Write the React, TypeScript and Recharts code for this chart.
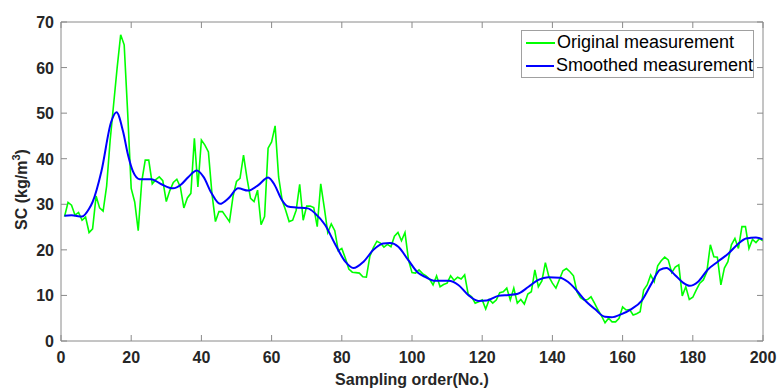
import { LineChart, Line, XAxis, YAxis } from 'recharts'

const X_TICKS = [0, 20, 40, 60, 80, 100, 120, 140, 160, 180, 200]
const Y_TICKS = [0, 10, 20, 30, 40, 50, 60, 70]

// original measurement, sampling order 1..200
const originalValues = [
  27.3, 30.4, 29.8, 27.6, 28.2, 26.5, 27.2, 23.8, 24.6, 31.8,
  29.2, 28.5, 34, 44, 52, 60, 67.2, 65, 50, 33.5,
  30.5, 24.2, 35, 39.7, 39.7, 34.5, 35.4, 36, 35.2, 30.6,
  33, 34.8, 35.5, 33.8, 29.2, 31.4, 32.4, 44.5, 33.8, 44.1,
  43, 41.5, 32.4, 26.2, 28.4, 28.4, 27.3, 26.2, 31.7, 35,
  35.7, 40.8, 35.7, 31.3, 30.6, 33.1, 25.5, 27.3, 42.3, 43.7,
  47.2, 36, 30.9, 28.7, 26.2, 26.5, 28.7, 34.4, 26.5, 29.6,
  29.6, 29.3, 25.1, 34.5, 29.3, 23.8, 25.7, 24.2, 19.8, 20.3,
  18.2, 15.8, 15.1, 15, 14.9, 14.1, 14, 18.6, 20.5, 21.9,
  21.5, 20.6, 21.2, 20.7, 23, 23.8, 22, 23.8, 17.8, 15,
  14.9, 15.6, 14.8, 14.3, 13.6, 12.3, 14.3, 11.9, 12.4, 12.7,
  14.3, 13.3, 14, 13.6, 14.5, 10.3, 9.7, 8.3, 8.6, 9,
  7, 9.1, 8.3, 9, 10.6, 10.8, 11.6, 9, 11.6, 8.3,
  9.1, 8.1, 10.3, 10.8, 15.6, 11.9, 13.2, 17.2, 14.1, 12.7,
  11.6, 13.5, 15.4, 15.9, 15.2, 14.3, 10.8, 9.5, 9, 9.1,
  9.7, 8.3, 6.8, 5.5, 4, 5, 4.2, 4.2, 5, 7.5,
  6.8, 6.9, 5.7, 6, 6.4, 11.2, 12.3, 14.5, 13, 16.5,
  17.6, 18.4, 17.8, 15, 16.2, 16.7, 9.9, 11.9, 9.1, 9.6,
  11.2, 12.7, 13.4, 15.2, 21.1, 18.5, 18.4, 12.3, 16, 17.4,
  21.1, 22.5, 20.3, 25.1, 25.1, 20.3, 22.3, 21.6, 22.5, 22,
]

// smoothed measurement, read at key points along the curve
const smoothedOrder = [
  1, 3, 6, 8, 9, 11.5, 14.3, 15.8, 17.7, 19.1, 20.5, 22.4, 25.7, 28.6, 31.9, 34.3,
  36.3, 38.7, 40.6, 42.9, 45.3, 47.7, 50.5, 53.3, 56.2, 59, 60.9, 62.8, 64.7, 67,
  70.3, 72.4, 75.2, 78, 81, 83.3, 86.2, 89, 91.8, 93.7, 96.1, 98.9, 101.8, 103.7,
  106.6, 110.4, 113.2, 116, 118.9, 121.3, 124.6, 127.5, 129.9, 133.2, 136, 138.8,
  142.1, 144.4, 146.8, 149.2, 152.1, 155, 156.8, 159.7, 162.5, 165.4, 168.3, 170.6,
  172.5, 174.9, 177.2, 179.1, 181.5, 184.3, 187.1, 190, 192.9, 195.2, 198, 200,
]
const smoothedValues = [
  27.5, 27.6, 27.3, 29, 30.5, 37.2, 48.1, 50.2, 45.9, 40.8, 37.2, 35.5, 35.5, 34.4, 33.5, 34.4,
  36, 37.4, 36, 32.4, 30.1, 31.3, 33.5, 33, 34.2, 35.9, 34.2, 31.1, 29.5, 29.3,
  29.1, 28, 25.5, 21.4, 17.4, 16, 17.4, 20, 21.4, 21.5, 20.7, 17.8, 14.9, 14.1,
  13.2, 13.2, 12.3, 10.1, 8.8, 8.9, 9.9, 10.1, 10.3, 11.9, 13.4, 14,
  13.9, 13, 11.2, 9, 7, 5.3, 5.2, 5.9, 7, 8.8, 12.7, 15.6,
  16, 14.5, 12.8, 12.1, 13, 15.7, 17.4, 19.1, 21.3, 22.5, 22.7, 22.3,
]

const originalData = originalValues.map((v, i) => ({ x: i + 1, y: v }))
const smoothedData = smoothedValues.map((v, i) => ({ x: smoothedOrder[i], y: v }))

const FONT = '"Liberation Sans", Arial, sans-serif'
const AXIS_COLOR = '#8a8a8a'
const TEXT_COLOR = '#262626'
const TICK_LEN = 6

const BottomTick = ({ x, y, payload }: any) => (
  <g>
    <line x1={x} y1={y} x2={x} y2={y - TICK_LEN} stroke={AXIS_COLOR} />
    <text x={x} y={y + 22} textAnchor="middle" fontFamily={FONT} fontWeight="bold" fontSize={16} fill={TEXT_COLOR}>
      {payload.value}
    </text>
  </g>
)

const TopTick = ({ x, y }: any) => <line x1={x} y1={y} x2={x} y2={y + TICK_LEN} stroke={AXIS_COLOR} />

const LeftTick = ({ x, y, payload }: any) => (
  <g>
    <line x1={x} y1={y} x2={x + TICK_LEN} y2={y} stroke={AXIS_COLOR} />
    <text x={x - 7} y={y + 6} textAnchor="end" fontFamily={FONT} fontWeight="bold" fontSize={16} fill={TEXT_COLOR}>
      {payload.value}
    </text>
  </g>
)

const RightTick = ({ x, y }: any) => <line x1={x} y1={y} x2={x - TICK_LEN} y2={y} stroke={AXIS_COLOR} />

const YLabel = ({ viewBox }: any) => {
  const cx = 27
  const cy = viewBox.y + viewBox.height / 2 + 8
  return (
    <text
      x={cx}
      y={cy}
      transform={`rotate(-90 ${cx} ${cy})`}
      textAnchor="middle"
      fontFamily={FONT}
      fontWeight="bold"
      fontSize={16}
      fill={TEXT_COLOR}
    >
      SC (kg/m<tspan dy={-7} fontSize={11}>3</tspan>
      <tspan dy={7}>)</tspan>
    </text>
  )
}

const XLabel = ({ viewBox }: any) => (
  <text
    x={viewBox.x + viewBox.width / 2}
    y={viewBox.y + 44}
    textAnchor="middle"
    fontFamily={FONT}
    fontWeight="bold"
    fontSize={16}
    fill={TEXT_COLOR}
  >
    Sampling order(No.)
  </text>
)

const legendItems = [
  { name: 'Original measurement', color: '#00ff00' },
  { name: 'Smoothed measurement', color: '#0000ff' },
]

// legend sits over the plot, top right, like the MATLAB box legend
const LegendBox = () => (
  <div
    style={{
      position: 'absolute',
      left: 521,
      top: 30,
      width: 231,
      height: 46,
      border: '1px solid #a0a0a0',
      background: '#fff',
      fontFamily: FONT,
      fontSize: 18,
      color: '#000',
    }}
  >
    {legendItems.map((item) => (
      <div key={item.name} style={{ display: 'flex', alignItems: 'center', height: 23, paddingLeft: 4 }}>
        <div style={{ width: 29, height: 2, background: item.color, marginRight: 2 }} />
        <span style={{ whiteSpace: 'nowrap', lineHeight: '23px' }}>{item.name}</span>
      </div>
    ))}
  </div>
)

export default function App() {
  return (
    <div style={{ position: 'absolute', left: 0, top: 0, width: 778, height: 389, background: '#fff' }}>
      <LineChart width={778} height={389} margin={{ top: 21, right: 14, bottom: 0, left: 0 }}>
        <XAxis
          type="number"
          dataKey="x"
          domain={[0, 200]}
          ticks={X_TICKS}
          height={48}
          tickSize={0}
          tickMargin={0}
          tickLine={false}
          tick={<BottomTick />}
          axisLine={{ stroke: AXIS_COLOR }}
          label={<XLabel />}
          allowDataOverflow
        />
        <XAxis
          xAxisId="top"
          orientation="top"
          type="number"
          dataKey="x"
          domain={[0, 200]}
          ticks={X_TICKS}
          height={1}
          tickSize={0}
          tickMargin={0}
          tickLine={false}
          tick={<TopTick />}
          axisLine={{ stroke: AXIS_COLOR }}
          allowDataOverflow
        />
        <YAxis
          type="number"
          domain={[0, 70]}
          ticks={Y_TICKS}
          width={61}
          tickSize={0}
          tickMargin={0}
          tickLine={false}
          tick={<LeftTick />}
          axisLine={{ stroke: AXIS_COLOR }}
          label={<YLabel />}
          allowDataOverflow
        />
        <YAxis
          yAxisId="right"
          orientation="right"
          type="number"
          domain={[0, 70]}
          ticks={Y_TICKS}
          width={1}
          tickSize={0}
          tickMargin={0}
          tickLine={false}
          tick={<RightTick />}
          axisLine={{ stroke: AXIS_COLOR }}
          allowDataOverflow
        />
        <Line
          data={originalData}
          dataKey="y"
          name="Original measurement"
          type="linear"
          stroke="#00ff00"
          strokeWidth={1.6}
          dot={false}
          isAnimationActive={false}
        />
        <Line
          data={smoothedData}
          dataKey="y"
          name="Smoothed measurement"
          type="monotone"
          stroke="#0000ff"
          strokeWidth={2}
          dot={false}
          isAnimationActive={false}
        />
      </LineChart>
      <LegendBox />
    </div>
  )
}
